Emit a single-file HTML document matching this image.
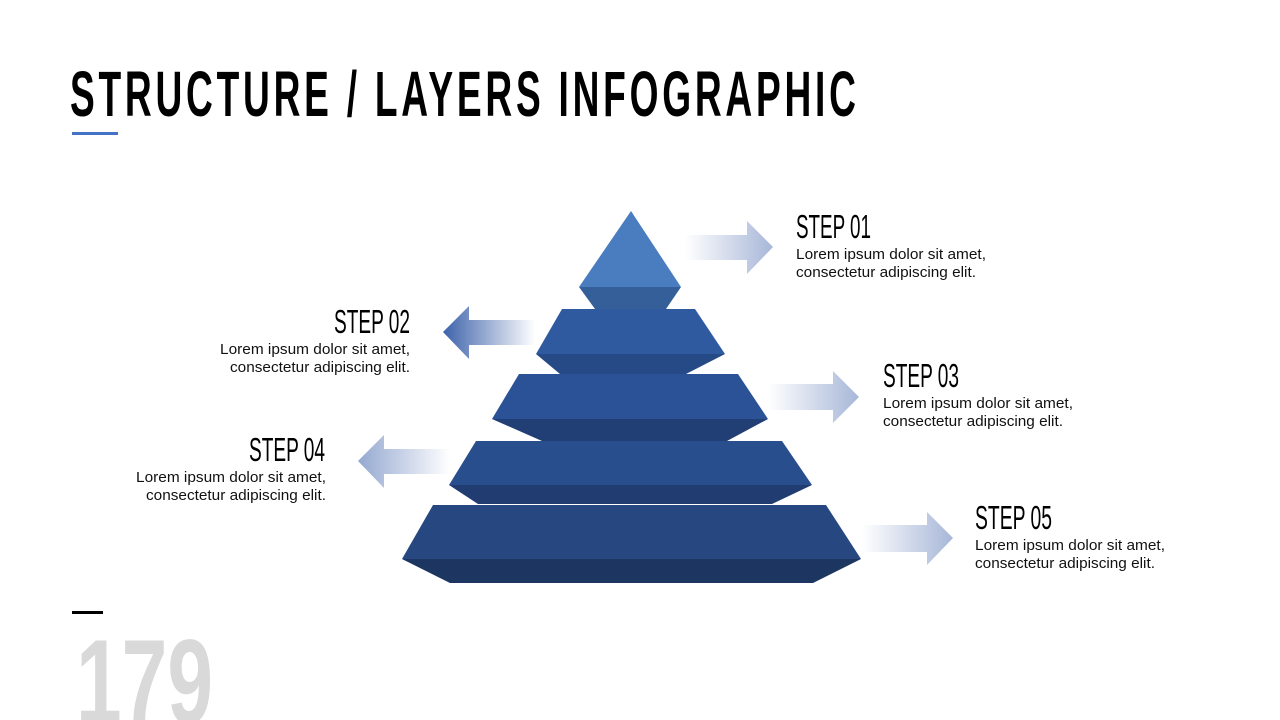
<!DOCTYPE html>
<html><head><meta charset="utf-8"><style>
html,body{margin:0;padding:0;background:#fff;width:1280px;height:720px;overflow:hidden}
svg{display:block}
text{font-family:"Liberation Sans",sans-serif}
.h{font-size:33px;fill:#000}
.b{font-size:15px;fill:#111}
</style></head><body>
<svg width="1280" height="720" viewBox="0 0 1280 720">
<defs>
<linearGradient id="gr" x1="0" x2="1"><stop offset="0" stop-color="#fff"/><stop offset="1" stop-color="#a7b7d8"/></linearGradient>
<linearGradient id="gl2" x1="1" x2="0"><stop offset="0" stop-color="#fff"/><stop offset="1" stop-color="#3d62aa"/></linearGradient>
<linearGradient id="gl4" x1="1" x2="0"><stop offset="0" stop-color="#fff"/><stop offset="1" stop-color="#94a8d0"/></linearGradient>
</defs>
<g transform="scale(0.58,1)">
<text x="120.7" y="116" font-size="64" font-weight="bold" textLength="1355" lengthAdjust="spacing">STRUCTURE / LAYERS INFOGRAPHIC</text>
</g>
<rect x="72" y="132" width="46" height="3" fill="#4472c4"/>
<rect x="72" y="611" width="31" height="3" fill="#000"/>
<text x="76" y="723" font-size="120" font-weight="bold" fill="#d9d9d9" textLength="137" lengthAdjust="spacingAndGlyphs">179</text>

<polygon points="631,211 681,287 579,287" fill="#4a7cc0"/>
<polygon points="579,287 681,287 666,309 595,309" fill="#355f98"/>
<polygon points="562,309 695,309 725,354 536,354" fill="#2f5aa0"/>
<polygon points="536,354 725,354 686,374 560,374" fill="#264a86"/>
<polygon points="519,374 738,374 768,419 492,419" fill="#2b5296"/>
<polygon points="492,419 768,419 727,441 542,441" fill="#223f75"/>
<polygon points="476,441 782,441 812,485 449,485" fill="#294e8e"/>
<polygon points="449,485 812,485 772,504 478,504" fill="#213c70"/>
<polygon points="433,505 826,505 861,559 402,559" fill="#26477f"/>
<polygon points="402,559 861,559 813,583 450,583" fill="#1d3561"/>

<polygon points="685,235 747,235 747,221 773,247 747,274 747,260 685,260" fill="url(#gr)"/>
<polygon points="535,320 469,320 469,306 443,332 469,359 469,345 535,345" fill="url(#gl2)"/>
<polygon points="768,384 833,384 833,371 859,397 833,423 833,410 768,410" fill="url(#gr)"/>
<polygon points="450,449 384,449 384,435 358,461 384,488 384,474 450,474" fill="url(#gl4)"/>
<polygon points="862,525 927,525 927,512 953,538 927,565 927,552 862,552" fill="url(#gr)"/>

<text class="h" x="796" y="238" textLength="75" lengthAdjust="spacingAndGlyphs">STEP 01</text>
<text class="b" x="796" y="259" textLength="190" lengthAdjust="spacingAndGlyphs">Lorem ipsum dolor sit amet,</text>
<text class="b" x="796" y="277" textLength="180" lengthAdjust="spacingAndGlyphs">consectetur adipiscing elit.</text>

<text class="h" x="334" y="333" textLength="76" lengthAdjust="spacingAndGlyphs">STEP 02</text>
<text class="b" x="220" y="354" textLength="190" lengthAdjust="spacingAndGlyphs">Lorem ipsum dolor sit amet,</text>
<text class="b" x="230" y="372" textLength="180" lengthAdjust="spacingAndGlyphs">consectetur adipiscing elit.</text>

<text class="h" x="883" y="387" textLength="76" lengthAdjust="spacingAndGlyphs">STEP 03</text>
<text class="b" x="883" y="408" textLength="190" lengthAdjust="spacingAndGlyphs">Lorem ipsum dolor sit amet,</text>
<text class="b" x="883" y="426" textLength="180" lengthAdjust="spacingAndGlyphs">consectetur adipiscing elit.</text>

<text class="h" x="249" y="461" textLength="76" lengthAdjust="spacingAndGlyphs">STEP 04</text>
<text class="b" x="136" y="482" textLength="190" lengthAdjust="spacingAndGlyphs">Lorem ipsum dolor sit amet,</text>
<text class="b" x="146" y="500" textLength="180" lengthAdjust="spacingAndGlyphs">consectetur adipiscing elit.</text>

<text class="h" x="975" y="529" textLength="77" lengthAdjust="spacingAndGlyphs">STEP 05</text>
<text class="b" x="975" y="550" textLength="190" lengthAdjust="spacingAndGlyphs">Lorem ipsum dolor sit amet,</text>
<text class="b" x="975" y="568" textLength="180" lengthAdjust="spacingAndGlyphs">consectetur adipiscing elit.</text>
</svg>
</body></html>
